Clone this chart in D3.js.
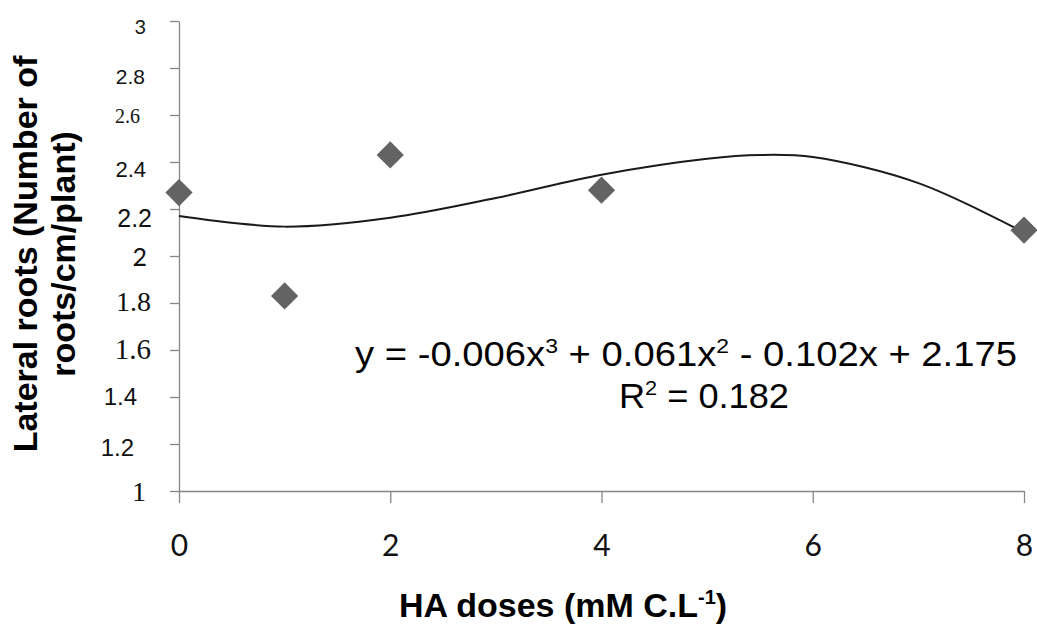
<!DOCTYPE html>
<html>
<head>
<meta charset="utf-8">
<script src="https://cdn.jsdelivr.net/npm/d3@7"></script>
<style>
	body { margin: 0; background: #fff; }
	svg { display: block; }
	.axis path, .axis line { stroke: #868686; stroke-width: 1.3; }
</style>
</head>
<body>
<svg id="chart"></svg>
<script>
// data
var doses = [0, 1, 2, 4, 8];
var lateral_roots = [2.27, 1.83, 2.43, 2.28, 2.11];

// trend line (cubic fit) as drawn in the picture
var trend_x = [0, 1, 2, 3, 4, 5, 5.5, 6, 7, 8];
var trend_y = [2.17, 2.125, 2.163, 2.247, 2.346, 2.414, 2.43, 2.421, 2.31, 2.10];

var x_ticks = [0, 2, 4, 6, 8];
var y_ticks = [1, 1.2, 1.4, 1.6, 1.8, 2, 2.2, 2.4, 2.6, 2.8, 3];

var eq_text = ["y = -0.006x", "3", " + 0.061x", "2", " - 0.102x + 2.175"];
var r2_text = ["R", "2", " = 0.182"];

var width = 1037, height = 625;

var svg = d3.select("svg#chart")
	.attr("width", width)
	.attr("height", height);

var x = d3.scaleLinear().domain([0, 8]).range([179, 1024]);
var y = d3.scaleLinear().domain([1, 3]).range([491, 21]);

var sans = "'Liberation Sans', Arial, sans-serif";
var serif = "'Liberation Serif', 'Times New Roman', serif";
var calib = "Lato, 'Open Sans', sans-serif";

// the y labels in the picture come in mixed fonts and sizes
// [font, size, right edge offset, vertical shift]
var y_label_style = {
	"3":   [calib, 20, -33, 5],
	"2.8": [sans, 21, -34, 8],
	"2.6": [serif, 20, -39, 1],
	"2.4": [sans, 22, -33, 7],
	"2.2": [sans, 25, -27, 9],
	"2":   [calib, 25, -32, 0],
	"1.8": [serif, 28, -28, -2],
	"1.6": [serif, 29, -28, -1],
	"1.4": [sans, 24, -42, -1],
	"1.2": [sans, 24, -45, 3],
	"1":   [serif, 28, -33, 0]
};

// ====================================================
// x axis
var gx = svg.append("g")
	.attr("class", "axis axis--x")
	.attr("transform", "translate(0," + y(1) + ")")
	.call(d3.axisBottom(x)
		.tickValues(x_ticks)
		.tickSize(12)
		.tickSizeOuter(0)
		.tickPadding(30)
		.tickFormat(function(d) { return d; }));

gx.selectAll("text")
	.attr("fill", "#111")
	.style("font-family", calib)
	.style("font-size", "30px")
	.attr("dy", "0.77em");

// ====================================================
// y axis -- labels drawn separately, they all differ
var gy = svg.append("g")
	.attr("class", "axis axis--y")
	.attr("transform", "translate(" + x(0) + ",0)")
	.call(d3.axisLeft(y)
		.tickValues(y_ticks)
		.tickSize(9)
		.tickSizeOuter(0)
		.tickFormat(""));

svg.append("g")
	.attr("class", "y-labels")
	.selectAll("text")
	.data(y_ticks)
	.enter().append("text")
	.attr("text-anchor", "end")
	.attr("dominant-baseline", "central")
	.attr("fill", "#111")
	.attr("x", function(d) { return x(0) + y_label_style[String(d)][2]; })
	.attr("y", function(d) { return y(d) + y_label_style[String(d)][3]; })
	.style("font-family", function(d) { return y_label_style[String(d)][0]; })
	.style("font-size", function(d) { return y_label_style[String(d)][1] + "px"; })
	.text(function(d) { return String(d); });

// ====================================================
// trend line
var line = d3.line()
	.x(function(d) { return x(d[0]); })
	.y(function(d) { return y(d[1]); })
	.curve(d3.curveCatmullRom.alpha(0.5));

svg.append("path")
	.datum(d3.zip(trend_x, trend_y))
	.attr("fill", "none")
	.attr("stroke", "#1a1a1a")
	.attr("stroke-width", 2)
	.attr("d", line);

// ====================================================
// points (diamonds)
svg.selectAll(".pt")
	.data(d3.zip(doses, lateral_roots))
	.enter().append("path")
	.attr("class", "pt")
	.attr("d", d3.symbol().type(d3.symbolSquare).size(370))
	.attr("fill", "#636363")
	.attr("transform", function(d) {
		return "translate(" + x(d[0]) + "," + y(d[1]) + ") rotate(45)";
	});

// ====================================================
// equation
function fn_sup_text(sel, parts, size) {
	parts.forEach(function(p, i) {
		var sup = i % 2 == 1;
		sel.append("tspan")
			.style("font-size", (sup ? size * 0.6 : size) + "px")
			.attr("dy", sup ? -size * 0.38 : (i > 0 ? size * 0.38 : null))
			.text(p);
	});
}

var eq = svg.append("text")
	.attr("x", 355)
	.attr("y", 366)
	.style("font-family", sans)
	.attr("fill", "#000")
	.style("white-space", "pre")
	.attr("textLength", 662)
	.attr("lengthAdjust", "spacingAndGlyphs");
fn_sup_text(eq, eq_text, 35);

var r2 = svg.append("text")
	.attr("x", 619)
	.attr("y", 408)
	.style("font-family", sans)
	.attr("fill", "#000")
	.style("white-space", "pre")
	.attr("textLength", 170)
	.attr("lengthAdjust", "spacingAndGlyphs");
fn_sup_text(r2, r2_text, 35);

// ====================================================
// axis titles
var xt = svg.append("text")
	.attr("x", 563)
	.attr("y", 617)
	.attr("text-anchor", "middle")
	.style("font-family", sans)
	.style("font-weight", "bold")
	.style("font-size", "34px")
	.attr("fill", "#000");
xt.append("tspan").text("HA doses (mM C.L");
xt.append("tspan").style("font-size", "20px").attr("dy", -13).text("-1");
xt.append("tspan").attr("dy", 13).text(")");

var yt = svg.append("text")
	.attr("transform", "translate(0,254) rotate(-90)")
	.attr("text-anchor", "middle")
	.style("font-family", sans)
	.style("font-weight", "bold")
	.style("font-size", "34px")
	.attr("fill", "#000");
yt.append("tspan").attr("x", 0).attr("y", 37).text("Lateral roots (Number of");
yt.append("tspan").attr("x", 0).attr("y", 75).text("roots/cm/plant)");
</script>
</body>
</html>
